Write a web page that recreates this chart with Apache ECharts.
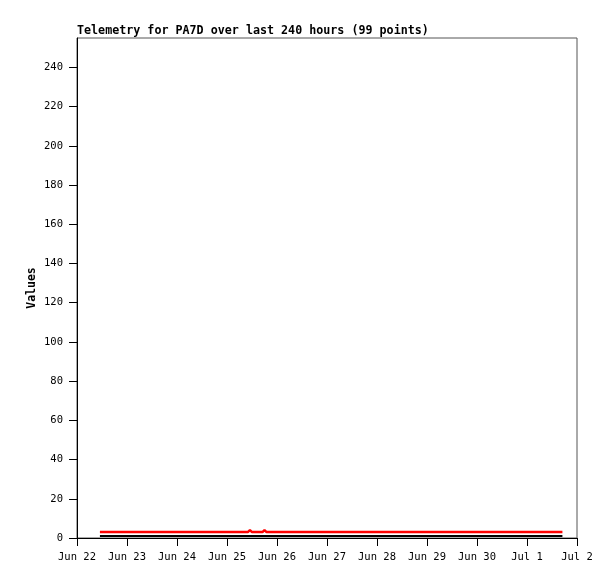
<!DOCTYPE html>
<html>
<head>
<meta charset="utf-8">
<script src="https://cdn.jsdelivr.net/npm/echarts@6/dist/echarts.min.js"></script>
<style>html,body{margin:0;padding:0;background:#fff}#c{width:615px;height:579px}</style>
</head>
<body>
<div id="c"></div>
<script>
// hours since Jun 22 00:00
const hours = [11, 20, 32, 44, 56, 68, 80, 82, 83, 84, 88, 89, 90, 91, 104, 116, 128, 140, 152, 164, 176, 188, 200, 212, 224, 233];
const redValues = [3, 3, 3, 3, 3, 3, 3, 3, 4, 3, 3, 3, 4, 3, 3, 3, 3, 3, 3, 3, 3, 3, 3, 3, 3, 3];
const blackValues = [1, 1, 1, 1, 1, 1, 1, 1, 1, 1, 1, 1, 1, 1, 1, 1, 1, 1, 1, 1, 1, 1, 1, 1, 1, 1];
const xLabels = ['Jun 22', 'Jun 23', 'Jun 24', 'Jun 25', 'Jun 26', 'Jun 27', 'Jun 28', 'Jun 29', 'Jun 30', 'Jul 1', 'Jul 2'];
const yTicks = [0, 20, 40, 60, 80, 100, 120, 140, 160, 180, 200, 220, 240];
const titleText = 'Telemetry for PA7D over last 240 hours (99 points)';

const font = 'DejaVu Sans Mono';
const chart = echarts.init(document.getElementById('c'));
chart.setOption({
  animation: false,
  backgroundColor: '#fff',
  title: {
    text: titleText, left: 77, top: 25, padding: 0,
    textStyle: { fontFamily: font, fontSize: 11.7, fontWeight: 'bold', color: '#000' }
  },
  grid: { left: 77, right: 38, top: 38, bottom: 41, show: true, borderColor: '#555', borderWidth: 1, containLabel: false },
  xAxis: {
    type: 'value', min: 0, max: 240, interval: 24,
    axisLine: { lineStyle: { color: '#000', width: 1 } },
    axisTick: { show: true, length: 8, lineStyle: { color: '#000' } },
    axisLabel: { fontFamily: font, fontSize: 10.5, color: '#000', margin: 14,
      formatter: v => xLabels[Math.round(v / 24)] },
    splitLine: { show: false }
  },
  yAxis: {
    type: 'value', min: 0, max: 255,
    name: 'Values', nameLocation: 'middle', nameRotate: 90, nameGap: 39, nameMoveOverlap: false,
    nameTextStyle: { fontFamily: font, fontSize: 11.5, fontWeight: 'bold', color: '#000' },
    axisLine: { show: true, lineStyle: { color: '#000', width: 1 } },
    axisTick: { show: true, length: 8, customValues: yTicks, lineStyle: { color: '#000' } },
    axisLabel: { fontFamily: font, fontSize: 10.5, color: '#000', margin: 14, customValues: yTicks },
    splitLine: { show: false }
  },
  series: [
    { type: 'line', data: hours.map((h, i) => [h, blackValues[i]]), showSymbol: false,
      lineStyle: { color: '#000', width: 2 }, z: 2 },
    { type: 'line', data: hours.map((h, i) => [h, redValues[i]]), showSymbol: false,
      lineStyle: { color: '#ff0000', width: 2.5 }, z: 3 }
  ]
});
</script>
</body>
</html>
